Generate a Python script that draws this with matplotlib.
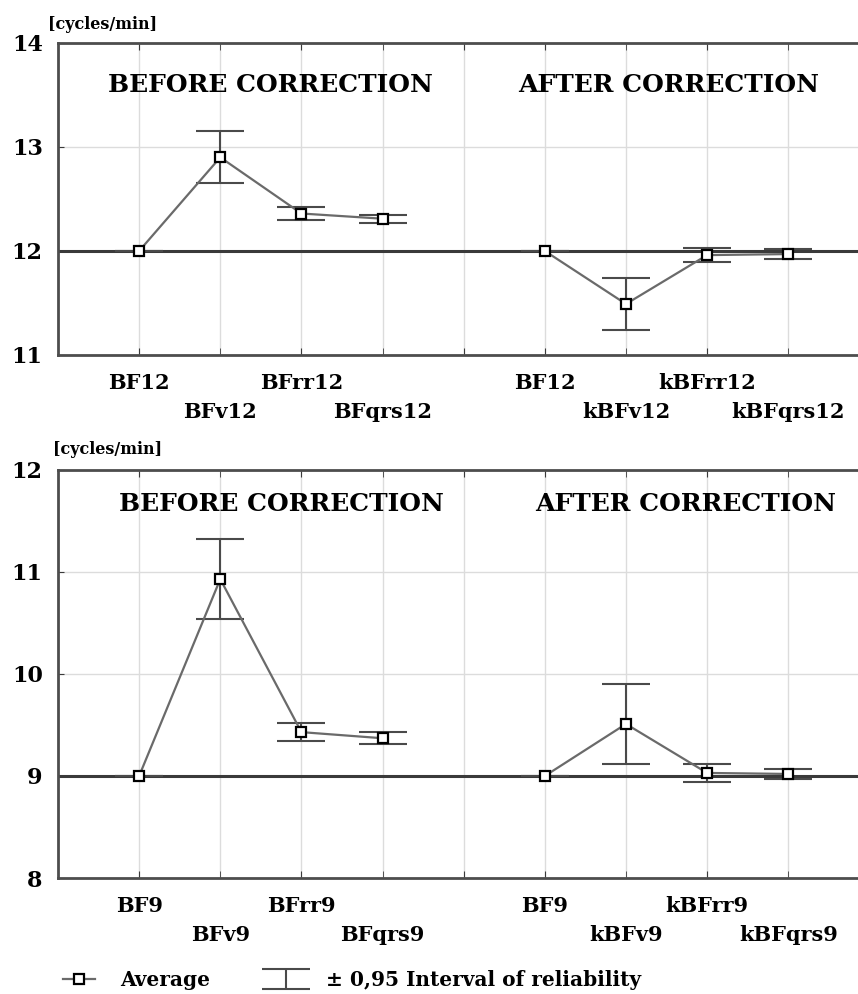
import numpy as np
import matplotlib
matplotlib.use("Agg")
import matplotlib.pyplot as plt

# category labels (before / after correction)
top_before_labels = ["BF12", "BFv12", "BFrr12", "BFqrs12"]
top_after_labels = ["BF12", "kBFv12", "kBFrr12", "kBFqrs12"]
bot_before_labels = ["BF9", "BFv9", "BFrr9", "BFqrs9"]
bot_after_labels = ["BF9", "kBFv9", "kBFrr9", "kBFqrs9"]

# averages and +-0.95 interval half widths [cycles/min]
top_before_mean = [12.0, 12.90, 12.36, 12.31]
top_before_ci = [0.0, 0.25, 0.065, 0.04]
top_after_mean = [12.0, 11.49, 11.96, 11.97]
top_after_ci = [0.0, 0.25, 0.065, 0.045]

bot_before_mean = [9.0, 10.93, 9.43, 9.37]
bot_before_ci = [0.0, 0.39, 0.09, 0.06]
bot_after_mean = [9.0, 9.51, 9.03, 9.02]
bot_after_ci = [0.0, 0.39, 0.085, 0.05]

top_ref = 12
bot_ref = 9
top_ylim = (11, 14)
bot_ylim = (8, 12)

plt.rcParams.update({
    "font.family": "DejaVu Serif",
    "font.weight": "bold",
})

LINE_C = "#6a6a6a"
DARK = "#3a3a3a"
GRID_C = "#dcdcdc"


def draw_panel(ax, before_mean, before_ci, after_mean, after_ci,
               before_labels, after_labels, ref, ylim, title_y, title_shift):
    x_before = np.arange(len(before_mean))
    x_after = np.arange(len(after_mean)) + len(before_mean) + 1

    ax.axhline(ref, color=DARK, lw=2.2, zorder=2)

    handles = {}
    for xs, m, ci in [(x_before, before_mean, before_ci),
                      (x_after, after_mean, after_ci)]:
        eb = ax.errorbar(xs, m, yerr=ci, fmt="none", ecolor="#4a4a4a",
                         elinewidth=1.5, capsize=17, capthick=1.5, zorder=3)
        ln, = ax.plot(xs, m, color=LINE_C, lw=1.6, marker="s", ms=7.5,
                      mfc="white", mec="black", mew=1.6, zorder=4)
        handles["line"] = ln
        handles["err"] = eb

    ax.set_xlim(-1, 8.86)
    ax.set_ylim(*ylim)
    ax.set_yticks(np.arange(ylim[0], ylim[1] + 1))
    ax.tick_params(axis="y", labelsize=16, pad=11, direction="in",
                   length=4, color=DARK)

    # staggered labels: 1st and 3rd of each group on the upper row
    upper_pos = list(x_before[0::2]) + [len(before_mean)] + list(x_after[0::2])
    upper_lab = list(before_labels[0::2]) + [""] + list(after_labels[0::2])
    lower_pos = list(x_before[1::2]) + list(x_after[1::2])
    lower_lab = list(before_labels[1::2]) + list(after_labels[1::2])
    ax.set_xticks(upper_pos, upper_lab)
    ax.set_xticks(lower_pos, lower_lab, minor=True)
    ax.tick_params(axis="x", which="both", direction="in", length=5,
                   top=True, color=DARK, labelsize=15)
    ax.tick_params(axis="x", which="major", pad=13)
    ax.tick_params(axis="x", which="minor", pad=34)

    ax.grid(True, which="both", axis="x", color=GRID_C, lw=1)
    ax.grid(True, which="major", axis="y", color=GRID_C, lw=1)
    ax.set_axisbelow(True)

    for s in ["left", "bottom", "top"]:
        ax.spines[s].set_color("#4d4d4d")
        ax.spines[s].set_linewidth(2)
    ax.spines["right"].set_visible(False)

    ax.text(np.mean(x_before) + title_shift[0], title_y, "BEFORE CORRECTION",
            ha="center", va="center", fontsize=18)
    ax.text(np.mean(x_after) + title_shift[1], title_y, "AFTER CORRECTION",
            ha="center", va="center", fontsize=18)
    return handles


fig = plt.figure(figsize=(8.58, 9.94), dpi=100)
ax1 = fig.add_axes([0.0676, 0.6429, 0.9324, 0.3139])
ax2 = fig.add_axes([0.0676, 0.1167, 0.9324, 0.4105])

draw_panel(ax1, top_before_mean, top_before_ci, top_after_mean, top_after_ci,
           top_before_labels, top_after_labels, top_ref, top_ylim, 13.6,
           (0.12, 0.02))
h = draw_panel(ax2, bot_before_mean, bot_before_ci, bot_after_mean, bot_after_ci,
               bot_before_labels, bot_after_labels, bot_ref, bot_ylim, 11.67,
               (0.25, 0.23))

ax1.text(-0.012, 1.058, "[cycles/min]", transform=ax1.transAxes,
         ha="left", va="center", fontsize=11.5)
ax2.text(-0.006, 1.049, "[cycles/min]", transform=ax2.transAxes,
         ha="left", va="center", fontsize=11.5)

fig.legend([h["line"], h["err"]],
           ["Average", "\u00b1 0,95 Interval of reliability"],
           loc="center left", bbox_to_anchor=(0.062, 0.014), ncol=2,
           frameon=False, fontsize=14.5, borderpad=0, handlelength=1.6,
           handletextpad=1.2, columnspacing=3.0)

fig.savefig("out.png", dpi=100, facecolor="white")
